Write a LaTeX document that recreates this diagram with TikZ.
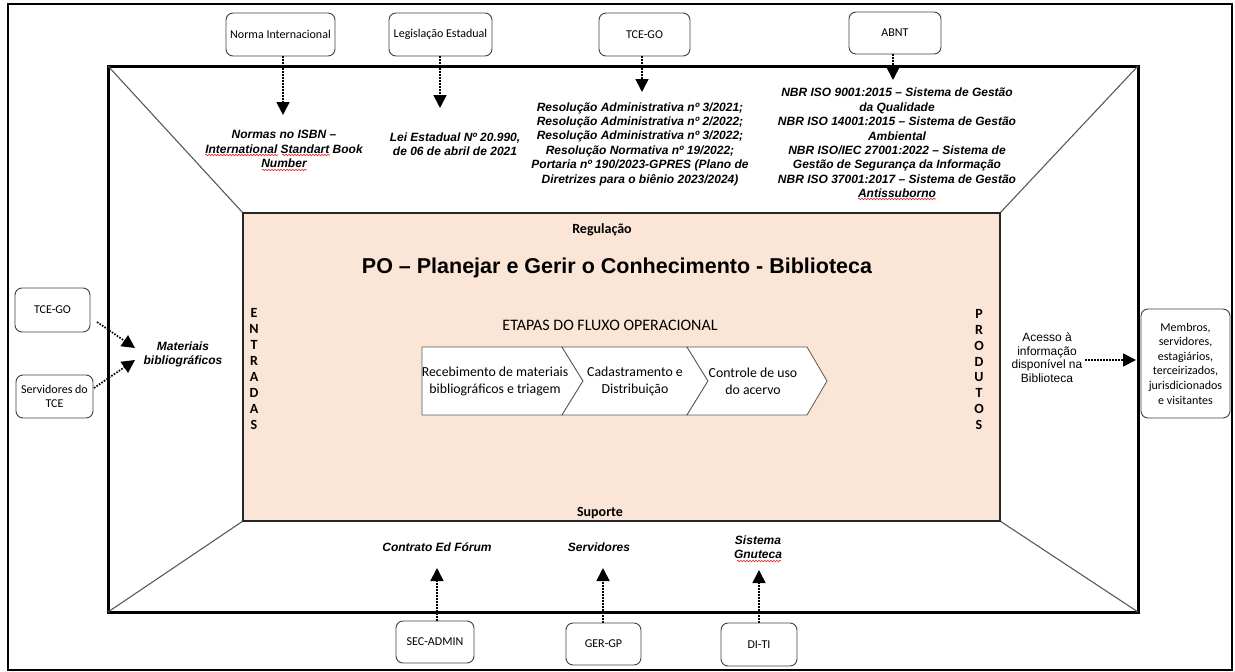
\documentclass[tikz,border=0pt]{standalone}
\usepackage{fontspec}
\setmainfont{Carlito}
\newfontfamily\arialf{Liberation Sans}
\usetikzlibrary{arrows.meta,decorations.pathmorphing}
\definecolor{peach}{RGB}{250,229,214}
\definecolor{wavered}{RGB}{230,40,40}
\begin{document}
\begin{tikzpicture}[x=1pt,y=-1pt,
  rbox/.style={draw=black!75, line width=0.9pt, rounded corners=7pt, fill=white, align=center, font=\fontsize{12}{14}\selectfont, inner sep=1pt},
  darr/.style={line width=1.7pt, dash pattern=on 1.6pt off 1.4pt, -{Triangle[length=13pt,width=13pt]}},
  itx/.style={align=center, font=\arialf\bfseries\itshape\fontsize{12}{14.4}\selectfont, inner sep=0pt},
  chtx/.style={align=center, font=\fontsize{13.8}{17}\selectfont, inner sep=0pt},
  vtx/.style={align=center, font=\bfseries\fontsize{14}{15.9}\selectfont, inner sep=0pt},
  diag/.style={draw=black!65, line width=1.1pt},
  chev/.style={draw=black!65, line width=0.8pt, fill=white},
  wave/.style={draw=wavered, line width=0.6pt, decorate, decoration={snake, amplitude=0.8pt, segment length=3pt}}
  ]
\useasboundingbox (0,0) rectangle (1235,672);
% frames
\draw[line width=2.8pt] (8,4) rectangle (1232,670);
\draw[line width=3pt] (108,66) rectangle (1138,612);
\draw[diag] (108,66) -- (243,213);
\draw[diag] (1138,66) -- (1000,213);
\draw[diag] (108,612) -- (243,521);
\draw[diag] (1138,612) -- (1000,521);
\draw[draw=black!85, line width=1.3pt, fill=peach] (243,213) rectangle (1000,521);

% central texts
\node[font=\bfseries\fontsize{14}{16}\selectfont] (reg) at (602,230) {Regulação};
\node[font=\arialf\bfseries\fontsize{21.5}{24}\selectfont] (title) at (617,268) {PO – Planejar e Gerir o Conhecimento - Biblioteca};
\node[font=\fontsize{16}{18}\selectfont] (etapas) at (610,325) {ETAPAS DO FLUXO OPERACIONAL};
\node[font=\bfseries\fontsize{14}{16}\selectfont] (sup) at (600,513) {Suporte};
\node[vtx] (ent) at (254,369) {E\\N\\T\\R\\A\\D\\A\\S};
\node[vtx] (prod) at (979,369.5) {P\\R\\O\\D\\U\\T\\O\\S};

% chevrons
\draw[chev] (422,347) -- (562,347) -- (583,381) -- (562,415) -- (422,415) -- cycle;
\draw[chev] (562,347) -- (687,347) -- (708,381) -- (687,415) -- (562,415) -- (583,381) -- cycle;
\draw[chev] (687,347) -- (807,347) -- (827,381) -- (807,415) -- (687,415) -- (708,381) -- cycle;
\node[chtx] (c1) at (495,381) {Recebimento de materiais\\bibliográficos e triagem};
\node[chtx] (c2) at (635,381) {Cadastramento e\\Distribuição};
\node[chtx] (c3) at (753,381) {Controle de uso\\do acervo};

% top
\node[rbox, minimum width=109pt, minimum height=43pt] (ni) at (280.5,34.5) {Norma Internacional};
\node[rbox, minimum width=103pt, minimum height=43pt] (leg) at (440.5,34.5) {Legislação Estadual};
\node[rbox, minimum width=91pt, minimum height=43pt] (tce) at (644.5,34.5) {TCE-GO};
\node[rbox, minimum width=92pt, minimum height=42pt] (abnt) at (895,33) {ABNT};
\coordinate (niT) at (283,115);
\coordinate (legT) at (440,108);
\coordinate (tceT) at (642,92);
\coordinate (abntT) at (893,80);
\draw[darr] (ni.south -| niT) -- (niT);
\draw[darr] (leg.south -| legT) -- (legT);
\draw[darr] (tce.south -| tceT) -- (tceT);
\draw[darr] (abnt.south -| abntT) -- (abntT);

\node[itx] (isbn) at (284,149) {Normas no ISBN –\\International Standart Book\\Number};
\node[itx] (lei) at (455,144.5) {Lei Estadual Nº 20.990,\\de 06 de abril de 2021};
\node[itx] (tcet) at (640,144) {Resolução Administrativa nº 3/2021;\\Resolução Administrativa nº 2/2022;\\Resolução Administrativa nº 3/2022;\\Resolução Normativa nº 19/2022;\\Portaria nº 190/2023-GPRES (Plano de\\Diretrizes para o biênio 2023/2024)};
\node[itx] (abntt) at (897,143) {NBR ISO 9001:2015 – Sistema de Gestão\\da Qualidade\\NBR ISO 14001:2015 – Sistema de Gestão\\Ambiental\\NBR ISO/IEC 27001:2022 – Sistema de\\Gestão de Segurança da Informação\\NBR ISO 37001:2017 – Sistema de Gestão\\Antissuborno};

% spell-check waves
\draw[wave] (205,155) -- (278,155);
\draw[wave] (282,155) -- (330,155);
\draw[wave] (262,170) -- (307,170);
\draw[wave] (858,199) -- (936,199);
\draw[wave] (737,561) -- (781,561);

% left
\node[rbox, minimum width=75pt, minimum height=44pt] (tl) at (52.5,310) {TCE-GO};
\node[rbox, minimum width=77pt, minimum height=43pt] (sv) at (54.5,396.5) {Servidores do\\TCE};
\coordinate (tlA) at (97,322);
\coordinate (tlT) at (135,348);
\coordinate (svA) at (94,388);
\coordinate (svT) at (135,360);
\draw[darr] (tlA) -- (tlT);
\draw[darr] (svA) -- (svT);
\node[itx] (mat) at (183,354.5) {Materiais\\bibliográficos};

% right
\node[align=center, font=\arialf\fontsize{12}{13.7}\selectfont, inner sep=0pt] (acc) at (1047,357.5) {Acesso à\\informação\\disponível na\\Biblioteca};
\node[rbox, minimum width=89pt, minimum height=109pt, font=\fontsize{12}{14.6}\selectfont] (mem) at (1185.5,363.5) {Membros,\\servidores,\\estagiários,\\terceirizados,\\jurisdicionados\\e visitantes};
\coordinate (accA) at (1085,360);
\coordinate (accT) at (1136,360);
\draw[darr] (accA) -- (accT);

% bottom
\node[itx] (ctr) at (437,547) {Contrato Ed Fórum};
\node[itx] (srv) at (599,547) {Servidores};
\node[itx] (sis) at (758,547) {Sistema\\Gnuteca};
\node[rbox, minimum width=78pt, minimum height=42pt] (sec) at (435,642) {SEC-ADMIN};
\node[rbox, minimum width=75pt, minimum height=42pt] (ger) at (603.5,644) {GER-GP};
\node[rbox, minimum width=76pt, minimum height=43pt] (di) at (759,644.5) {DI-TI};
\coordinate (secT) at (437,568);
\coordinate (gerT) at (603,568);
\coordinate (diT) at (759,570);
\draw[darr] (sec.north -| secT) -- (secT);
\draw[darr] (ger.north -| gerT) -- (gerT);
\draw[darr] (di.north -| diT) -- (diT);
\end{tikzpicture}
\end{document}
